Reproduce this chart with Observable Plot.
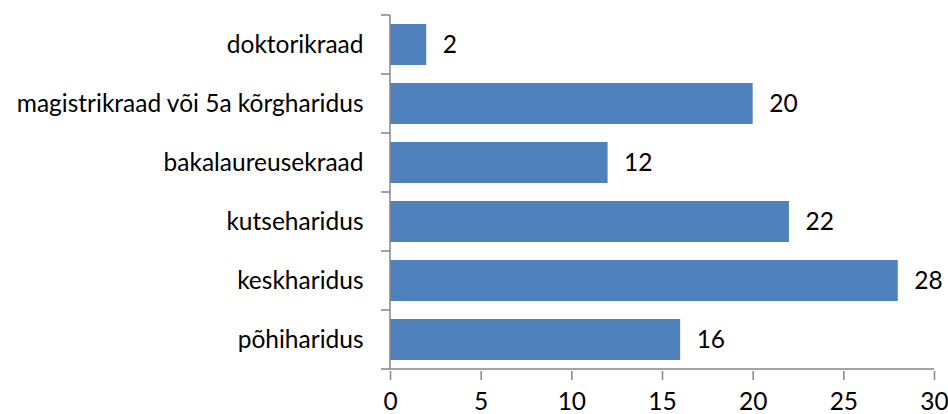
<!DOCTYPE html>
<html>
<head>
<meta charset="utf-8">
<script src="https://cdn.jsdelivr.net/npm/d3@7"></script>
<script src="https://cdn.jsdelivr.net/npm/@observablehq/plot@0.6"></script>
<style>
  html, body { margin: 0; padding: 0; background: #fff; }
  #chart svg { display: block; }
</style>
</head>
<body>
<div id="chart"></div>
<script>
const categories = ["doktorikraad", "magistrikraad või 5a kõrgharidus", "bakalaureusekraad", "kutseharidus", "keskharidus", "põhiharidus"];
const values = [2, 20, 12, 22, 28, 16];
const xTicks = [0, 5, 10, 15, 20, 25, 30];

const data = categories.map((c, i) => ({category: c, value: values[i]}));
const axisColor = "#868686";
const font = "Lato, 'Open Sans', sans-serif";
const fs = 24.5;

// draws the category boundary ticks, the vertical axis line and the bottom axis line
const axesLines = (index, scales, values, dimensions) => {
  const y = scales.y;
  const bw = y.bandwidth();
  const step = y.step();
  const gap = (step - bw) / 2;
  const x0 = scales.x(xTicks[0]);
  const x1 = scales.x(xTicks[xTicks.length - 1]);
  const g = d3.create("svg:g");
  const dom = y.domain();
  const positions = dom.map(c => y(c) - gap);
  positions.push(y(dom[dom.length - 1]) + bw + gap);
  for (const p of positions) {
    g.append("line")
      .attr("x1", x0 - 9).attr("x2", x0)
      .attr("y1", p).attr("y2", p)
      .attr("stroke", axisColor).attr("stroke-width", 1.5);
  }
  const yb = positions[positions.length - 1];
  g.append("line")
    .attr("x1", x0).attr("x2", x0)
    .attr("y1", positions[0]).attr("y2", yb)
    .attr("stroke", axisColor).attr("stroke-width", 1.5);
  g.append("line")
    .attr("x1", x0).attr("x2", x1)
    .attr("y1", yb).attr("y2", yb)
    .attr("stroke", axisColor).attr("stroke-width", 1.5);
  return g.node();
};

const chart = Plot.plot({
  width: 948,
  height: 414,
  marginLeft: 390,
  marginRight: 14,
  marginTop: 13,
  marginBottom: 43,
  style: {fontFamily: font, fontSize: fs + "px", color: "#000", background: "#fff"},
  x: {domain: [0, 30], ticks: xTicks},
  y: {domain: categories, paddingInner: 0.3, paddingOuter: 0.15},
  marks: [
    Plot.barX(data, {x: "value", y: "category", fill: "#4F81BD"}),
    Plot.text(data, {x: "value", y: "category", text: d => String(d.value), textAnchor: "start", dx: 16, fill: "#000", fontSize: fs}),
    Plot.axisY({tickSize: 0, tickPadding: 27, fontSize: fs, fill: "#000", label: null}),
    Plot.axisX({ticks: xTicks, tickSize: 9, tickPadding: 12, fontSize: fs, fill: "#000", stroke: axisColor, strokeWidth: 1.5, label: null, tickFormat: d => String(d)}),
    Plot.ruleY(categories, {y: d => d, render: axesLines})
  ]
});

document.getElementById("chart").appendChild(chart);
</script>
</body>
</html>
